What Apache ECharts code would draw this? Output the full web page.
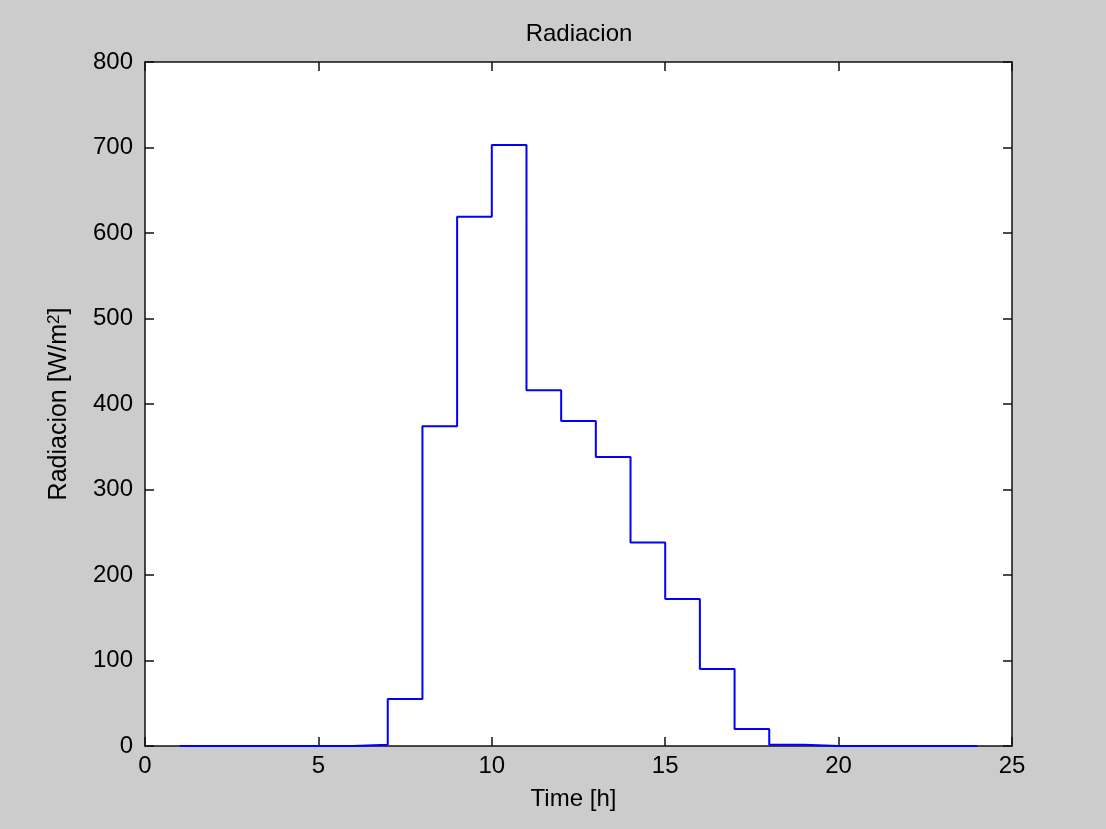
<!DOCTYPE html>
<html><head><meta charset="utf-8">
<script src="https://cdn.jsdelivr.net/npm/echarts@6/dist/echarts.min.js"></script>
<style>html,body{margin:0;padding:0;background:#cccccc}#c{width:1106px;height:829px}</style>
</head><body><div id="c"></div>
<script>
const hours = [1,2,3,4,5,6,7,8,9,10,11,12,13,14,15,16,17,18,19,20,21,22,23,24];
const radiacion = [0,0,0,0,0,1.5,55,374,619,703,416,380,338,238,172,90,20,1.5,0,0,0,0,0,0];
const titleText = 'Radiacion';
const xName = 'Time [h]';
const yName = 'Radiacion [W/m{sup|2}]';

const font = 'Liberation Sans, Arial, sans-serif';
const axisCommon = {
  axisLine: {show: true, onZero: false, lineStyle: {color: '#111', width: 1.5}},
  axisTick: {show: true, inside: true, length: 9, lineStyle: {color: '#111', width: 1.5}},
  splitLine: {show: false}
};
const chart = echarts.init(document.getElementById('c'));
chart.setOption({
  backgroundColor: '#cccccc',
  animation: false,
  title: {text: titleText, left: 574, top: 17, textAlign: 'center',
    textStyle: {fontFamily: font, fontSize: 24, fontWeight: 'normal', color: '#000'}},
  grid: {left: 145, top: 62, right: 94, bottom: 83, show: true, backgroundColor: '#fff', borderWidth: 0},
  xAxis: [
    Object.assign({type: 'value', min: 0, max: 25, interval: 5, position: 'bottom',
      name: xName, nameLocation: 'middle', nameGap: 41,
      nameTextStyle: {fontFamily: font, fontSize: 24, color: '#000', padding: [0, 10, 0, 0]},
      axisLabel: {fontFamily: font, fontSize: 24, color: '#000', margin: 8}}, axisCommon),
    Object.assign({type: 'value', min: 0, max: 25, interval: 5, position: 'top',
      axisLabel: {show: false}}, axisCommon)
  ],
  yAxis: [
    Object.assign({type: 'value', min: 0, max: 800, interval: 100, position: 'left',
      name: yName, nameLocation: 'middle', nameGap: 72,
      nameTextStyle: {fontFamily: font, fontSize: 25, color: '#000',
        rich: {sup: {fontFamily: font, fontSize: 17, color: '#000', verticalAlign: 'top', padding: [0, 0, 10, 0]}}},
      axisLabel: {fontFamily: font, fontSize: 24, color: '#000', margin: 12}}, axisCommon),
    Object.assign({type: 'value', min: 0, max: 800, interval: 100, position: 'right',
      axisLabel: {show: false}}, axisCommon)
  ],
  series: [{
    type: 'line', step: 'end', xAxisIndex: 0, yAxisIndex: 0,
    data: hours.map((h, i) => [h, radiacion[i]]),
    showSymbol: false, lineStyle: {color: '#0000ff', width: 2}, z: 5
  }]
});
</script></body></html>
